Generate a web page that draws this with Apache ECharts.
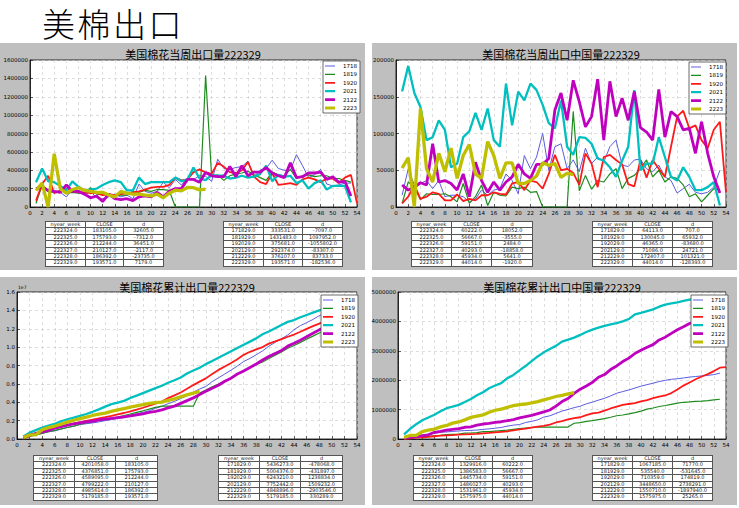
<!DOCTYPE html>
<html><head><meta charset="utf-8">
<script src="https://cdn.jsdelivr.net/npm/echarts@6/dist/echarts.min.js"></script>
<style>
html,body{margin:0;padding:0;background:#fff;width:739px;height:508px;overflow:hidden;}
.panel{position:absolute;background:#bfbfbf;}
#chart{position:absolute;left:0;top:0;width:739px;height:508px;z-index:1;}
#mainTitle{position:absolute;left:42px;top:3px;height:40px;font-family:'Noto Sans CJK SC',sans-serif;font-weight:300;font-size:33px;line-height:40px;letter-spacing:2.5px;color:#000;white-space:nowrap;z-index:5;}
#tables{position:absolute;left:0;top:0;z-index:4;}
table.t{position:absolute;border-collapse:collapse;background:#fff;font-family:'DejaVu Sans',sans-serif;font-size:5px;color:#222;table-layout:fixed;}
table.t td{border:1px solid #555;text-align:center;padding:0;height:5.4px;line-height:5.4px;overflow:hidden;white-space:nowrap;}
</style></head>
<body>
<div class="panel" style="left:0;top:43px;width:365px;height:227px"></div>
<div class="panel" style="left:372px;top:43px;width:365px;height:227px"></div>
<div class="panel" style="left:0;top:277px;width:365px;height:228px"></div>
<div class="panel" style="left:372px;top:277px;width:365px;height:228px"></div>
<div id="chart"></div>
<div id="tables"></div>
<div id="mainTitle"></div>
<script>
// ---------- series names ----------
const seriesNames = ['1718','1819','1920','2021','2122','2223'];

// ---------- 美国棉花当周出口量 (weekly US exports) ----------
const wk1718 = [60000,230000,160000,170000,160000,110000,190000,180000,130000,170000,100000,90000,110000,140000,110000,130000,90000,250000,170000,150000,170000,270000,210000,300000,240000,310000,300000,340628,333531,280000,520000,420000,410000,430000,440000,500000,330000,400000,420000,510000,420000,400000,400000,570000,450000,320000,350000,410000,250000,230000,240000,260000,260000];
const wk1819 = [40000,240000,170000,160000,180000,150000,160000,150000,150000,210000,140000,140000,120000,120000,130000,130000,170000,160000,180000,170000,190000,190000,180000,0,0,0,0,0,1431483,330000,350000,290000,340000,360000,370000,390000,350000,320000,290000,380000,350000,340000,410000,310000,340000,350000,330000,340000,340000,310000,310000,290000,270000];
const wk1920 = [70000,250000,340000,150000,180000,200000,170000,160000,160000,150000,150000,130000,140000,130000,140000,150000,160000,170000,190000,210000,220000,220000,240000,320000,290000,300000,380000,410000,375681,360000,480000,440000,380000,370000,400000,490000,330000,270000,250000,370000,240000,250000,260000,240000,300000,320000,300000,270000,310000,310000,260000,320000,350000,40000];
const wk2021 = [270000,420000,280000,270000,230000,180000,280000,220000,180000,190000,200000,240000,270000,290000,270000,180000,180000,320000,250000,270000,270000,270000,270000,320000,280000,300000,430000,310000,292374,350000,340000,340000,310000,320000,340000,320000,330000,360000,450000,280000,350000,330000,340000,260000,290000,200000,260000,290000,190000,230000,230000,230000,50000];
const wk2122 = [200000,220000,180000,170000,160000,240000,170000,170000,140000,100000,120000,60000,140000,90000,80000,90000,70000,110000,120000,110000,160000,110000,170000,200000,200000,300000,300000,270000,376107,340000,330000,330000,440000,330000,450000,340000,380000,380000,430000,370000,340000,320000,480000,320000,330000,370000,370000,380000,300000,330000,270000,280000,120000];
const wk2223 = [180000,260000,0,580000,200000,150000,190000,210000,180000,170000,160000,160000,130000,110000,170000,150000,140000,140000,130000,120000,140000,100000,150500,183105,175793,212244,210127,186392,193571];

// ---------- 美国棉花当周出口中国量 (weekly exports to China) ----------
const cn1718 = [16000,52000,30000,32000,36000,25000,36000,14000,16000,16000,14000,7000,11000,23000,16000,23000,25000,45000,36000,18000,70000,52000,68000,100000,50000,82000,86000,52000,64113,48000,80000,59000,68000,61000,82000,91000,57000,55000,64000,65000,52000,48000,57000,41000,36000,19000,25000,31000,20000,18000,20000,27000,50000];
const cn1819 = [5000,34000,27000,10000,18000,17000,17000,18000,14000,7000,32000,5000,14000,30000,2000,20000,16000,15000,27000,25000,27000,20000,21000,0,0,0,0,0,130045,22000,43000,24000,36000,34000,45000,52000,25000,39000,43000,52000,64000,41000,50000,34000,41000,39000,30000,14000,18000,7000,16000,25000,23000];
const cn1920 = [5000,14000,30000,11000,14000,20000,18000,9000,9000,17000,8000,11000,9000,16000,16000,20000,18000,17000,32000,34000,23000,36000,34000,25000,45000,71000,50000,52000,46365,30000,73000,59000,27000,68000,71000,64000,58000,31000,28000,64000,40000,64000,52000,41000,82000,123000,131000,107000,111000,91000,80000,105000,116000,20000];
const cn2021 = [157000,192000,155000,136000,91000,95000,118000,105000,54000,59000,95000,103000,128000,105000,134000,91000,82000,168000,111000,157000,145000,168000,159000,139000,114000,107000,145000,82000,71086,95000,94000,86000,66000,63000,54000,41000,63000,82000,159000,50000,59000,59000,95000,68000,41000,36000,54000,41000,23000,23000,27000,34000,2000];
const cn2122 = [30000,23000,27000,33000,30000,86000,34000,36000,32000,23000,45000,14000,61000,36000,20000,34000,23000,34000,41000,58000,45000,39000,58000,58000,66000,132000,155000,118000,172407,143000,109000,123000,174000,91000,171000,123000,148000,118000,157000,108000,102000,91000,160000,95000,130000,123000,105000,107000,73000,116000,73000,41000,19000];
const cn2223 = [53000,67000,0,134000,52000,34000,73000,48000,80000,39000,70000,85000,45000,39000,89000,70000,39000,60000,60000,32000,32000,36000,42170,60222,56667,59151,40293,45934,44014];

// ---------- 美国棉花累计出口量 (cumulative US exports) ----------
const cum1718 = [60000,290000,450000,620000,780000,890000,1080000,1260000,1390000,1560000,1660000,1750000,1860000,2000000,2110000,2240000,2330000,2580000,2750000,2900000,3070000,3340000,3550000,3850000,4090000,4400000,4700000,5102742,5436273,5720000,6240000,6660000,7070000,7500000,7940000,8440000,8770000,9170000,9590000,10100000,10520000,10920000,11320000,11890000,12340000,12660000,13010000,13420000,13670000,13900000,14140000,14400000,14660000];
const cum1819 = [40000,280000,450000,610000,790000,940000,1100000,1250000,1400000,1610000,1750000,1890000,2010000,2130000,2260000,2390000,2560000,2720000,2900000,3070000,3260000,3450000,3572893,3572893,3572893,3572893,3572893,3572893,5004376,5330000,5680000,5970000,6310000,6670000,7040000,7430000,7780000,8100000,8390000,8770000,9120000,9460000,9870000,10180000,10520000,10870000,11200000,11540000,11880000,12190000,12500000,12790000,13060000];
const cum1920 = [70000,320000,660000,810000,990000,1190000,1360000,1520000,1680000,1830000,1980000,2110000,2250000,2380000,2520000,2670000,2830000,3000000,3190000,3400000,3620000,3840000,4080000,4450000,4750000,5060000,5460000,5867529,6243210,6600000,7080000,7520000,7900000,8270000,8670000,9160000,9490000,9760000,10010000,10380000,10620000,10870000,11130000,11370000,11670000,11990000,12290000,12560000,12870000,13180000,13440000,13760000,14110000,14150000];
const cum2021 = [270000,690000,970000,1240000,1470000,1650000,1930000,2150000,2330000,2520000,2720000,2960000,3230000,3520000,3790000,3970000,4150000,4470000,4720000,4990000,5260000,5530000,5800000,6120000,6400000,6700000,7130000,7460068,7752442,8150000,8500000,8850000,9200000,9550000,9900000,10250000,10600000,10950000,11400000,11700000,12050000,12400000,12750000,12950000,13250000,13500000,13750000,14000000,14200000,14450000,14650000,14900000,14950000];
const cum2122 = [200000,420000,600000,770000,930000,1170000,1340000,1510000,1650000,1750000,1870000,1930000,2070000,2160000,2240000,2330000,2400000,2510000,2630000,2740000,2900000,3010000,3180000,3380000,3580000,3880000,4180000,4472789,4848896,5190000,5520000,5850000,6290000,6620000,7070000,7410000,7790000,8170000,8600000,8970000,9310000,9630000,10110000,10430000,10760000,11130000,11500000,11880000,12180000,12510000,12780000,13060000,13180000];
const cum2223 = [180000,440000,440000,1020000,1240000,1410000,1620000,1840000,2040000,2220000,2390000,2560000,2700000,2820000,3000000,3160000,3310000,3460000,3600000,3730000,3870000,3970000,4017953,4201058,4376851,4589095,4799222,4985614,5179185];

// ---------- 美国棉花累计出口中国量 (cumulative exports to China) ----------
const ccum1718 = [16000,68000,98000,130000,166000,191000,227000,241000,257000,273000,287000,294000,305000,328000,344000,367000,392000,437000,473000,491000,561000,600000,650000,745000,790000,870000,950000,1003072,1067185,1115000,1195000,1254000,1322000,1383000,1465000,1556000,1613000,1668000,1732000,1797000,1849000,1897000,1954000,1995000,2031000,2050000,2075000,2106000,2126000,2144000,2164000,2191000,2241000];
const ccum1819 = [5000,39000,66000,76000,94000,111000,128000,146000,160000,167000,199000,204000,218000,248000,250000,270000,286000,301000,328000,353000,375000,392000,405495,405495,405495,405495,405495,405495,535540,557000,600000,624000,660000,694000,739000,791000,816000,855000,898000,950000,1014000,1055000,1105000,1139000,1180000,1219000,1249000,1263000,1281000,1288000,1304000,1329000,1352000];
const ccum1920 = [5000,19000,49000,60000,74000,94000,112000,121000,130000,147000,155000,166000,175000,191000,207000,227000,245000,262000,294000,328000,351000,387000,421000,446000,491000,562000,612000,663994,710359,740000,813000,872000,899000,967000,1038000,1102000,1160000,1191000,1219000,1283000,1323000,1387000,1439000,1480000,1562000,1685000,1816000,1923000,2034000,2125000,2205000,2310000,2426000,2446000];
const ccum2021 = [157000,349000,504000,640000,731000,826000,944000,1049000,1103000,1162000,1257000,1360000,1488000,1593000,1727000,1818000,1900000,2068000,2179000,2336000,2481000,2649000,2808000,2947000,3061000,3168000,3313000,3377564,3448650,3540000,3640000,3720000,3790000,3850000,3900000,3940000,4000000,4080000,4240000,4290000,4350000,4410000,4500000,4570000,4610000,4650000,4700000,4740000,4760000,4780000,4810000,4850000,4850000];
const ccum2122 = [30000,53000,80000,113000,143000,229000,263000,299000,331000,354000,399000,413000,474000,510000,530000,564000,587000,621000,662000,720000,765000,804000,862000,920000,986000,1118000,1273000,1378303,1550710,1694000,1803000,1926000,2100000,2191000,2362000,2485000,2633000,2751000,2908000,3016000,3118000,3209000,3369000,3464000,3594000,3717000,3822000,3929000,4002000,4118000,4191000,4232000,4251000];
const ccum2223 = [53000,120000,120000,254000,306000,340000,413000,461000,541000,580000,650000,735000,780000,819000,908000,978000,1017000,1077000,1137000,1169000,1190000,1226000,1269694,1329916,1386583,1445734,1486027,1531961,1575975];

// ---------- titles ----------
const pageTitle = '美棉出口';
const panelTitles = ['美国棉花当周出口量222329','美国棉花当周出口中国量222329','美国棉花累计出口量222329','美国棉花累计出口中国量222329'];

// ---------- table texts ----------
const tblHeader = ['nyear_week','CLOSE','d'];
const recentWeeks = ['222324.0','222325.0','222326.0','222327.0','222328.0','222329.0'];
const sameWeekYears = ['171829.0','181929.0','192029.0','202129.0','212229.0','222329.0'];
const t1L_close = ['183105.0','175793.0','212244.0','210127.0','186392.0','193571.0'];
const t1L_d     = ['32605.0','-7312.0','36451.0','-2117.0','-23735.0','7179.0'];
const t1R_close = ['333531.0','1431483.0','375681.0','292374.0','376107.0','193571.0'];
const t1R_d     = ['-7097.0','1097952.0','-1055802.0','-83307.0','83733.0','-182536.0'];
const t2L_close = ['60222.0','56667.0','59151.0','40293.0','45934.0','44014.0'];
const t2L_d     = ['18052.0','-3555.0','2484.0','-18858.0','5641.0','-1920.0'];
const t2R_close = ['64113.0','130045.0','46365.0','71086.0','172407.0','44014.0'];
const t2R_d     = ['707.0','65932.0','-83680.0','24721.0','101321.0','-128393.0'];
const t3L_close = ['4201058.0','4376851.0','4589095.0','4799222.0','4985614.0','5179185.0'];
const t3L_d     = ['183105.0','175793.0','212244.0','210127.0','186392.0','193571.0'];
const t3R_close = ['5436273.0','5004376.0','6243210.0','7752442.0','4848896.0','5179185.0'];
const t3R_d     = ['-478068.0','-431897.0','1238834.0','1509232.0','-2903546.0','330289.0'];
const t4L_close = ['1329916.0','1386583.0','1445734.0','1486027.0','1531961.0','1575975.0'];
const t4L_d     = ['60222.0','56667.0','59151.0','40293.0','45934.0','44014.0'];
const t4R_close = ['1067185.0','535540.0','710359.0','3448650.0','1550710.0','1575975.0'];
const t4R_d     = ['71770.0','-531645.0','174819.0','2738291.0','-1897940.0','25265.0'];

// ---------- styling ----------
const colors = ['#5c5ce0','#1e8c1e','#ff1a1a','#00bfbf','#bf00bf','#bfbf00'];
const widths = [1, 1.2, 1.8, 2.3, 2.8, 3.3];

const grids = [
  {left:30, top:60, width:327, height:147},
  {left:396, top:60, width:330, height:147},
  {left:17, top:292, width:340, height:147},
  {left:398, top:292, width:328, height:147}
];
const yCfg = [
  {max:1600000, interval:200000, fmt: v => String(v)},
  {max:200000, interval:50000, fmt: v => String(v)},
  {max:16000000, interval:2000000, fmt: v => (v/1e7).toFixed(1)},
  {max:5000000, interval:1000000, fmt: v => String(v)}
];
const panelData = [
  [wk1718, wk1819, wk1920, wk2021, wk2122, wk2223],
  [cn1718, cn1819, cn1920, cn2021, cn2122, cn2223],
  [cum1718, cum1819, cum1920, cum2021, cum2122, cum2223],
  [ccum1718, ccum1819, ccum1920, ccum2021, ccum2122, ccum2223]
];
const legendPos = [
  {left:323, top:61}, {left:689, top:62}, {left:321, top:295}, {left:691, top:295}
];
const titlePos = [[193,54],[561,54],[187,287],[562,287]];

const lbl = {fontSize:5.5, color:'#000', fontFamily:'DejaVu Sans'};
const xAxis = grids.map((g,i) => ({
  type:'value', gridIndex:i, min:0, max:54, interval:2,
  axisLine:{show:true, onZero:false, lineStyle:{color:'#000', width:0.8}},
  axisTick:{show:true, inside:true, length:3, lineStyle:{color:'#000', width:0.6}},
  axisLabel:Object.assign({margin:3}, lbl),
  splitLine:{show:true, lineStyle:{color:'#c8c8c8', type:[3,3], width:0.6}}
}));
const yAxis = grids.map((g,i) => ({
  type:'value', gridIndex:i, min:0, max:yCfg[i].max, interval:yCfg[i].interval,
  axisLine:{show:true, lineStyle:{color:'#000', width:0.8}},
  axisTick:{show:true, inside:true, length:3, lineStyle:{color:'#000', width:0.6}},
  axisLabel:Object.assign({margin:2, formatter:yCfg[i].fmt}, lbl),
  splitLine:{show:true, lineStyle:{color:'#c8c8c8', type:[3,3], width:0.6}}
}));

const series = [];
panelData.forEach((arrs, p) => {
  arrs.forEach((arr, s) => {
    series.push({
      type:'line', name:seriesNames[s], xAxisIndex:p, yAxisIndex:p,
      data: arr.map((v, i) => [i + 1, v]),
      symbol:'none', showSymbol:false, smooth:false, animation:false, clip:true,
      lineStyle:{color:colors[s], width:widths[s]}, itemStyle:{color:colors[s]},
      emphasis:{disabled:true}
    });
  });
});

// legend icon: a horizontal bar whose thickness follows the line width (box 10x5)
function barIcon(w) {
  const y = (2.5 - w / 2).toFixed(2);
  return 'path://M0,0h10v0.01h-10zM0,' + y + 'h10v' + w + 'h-10zM0,4.99h10v0.01h-10z';
}
const legend = legendPos.map(pos => ({
  left:pos.left, top:pos.top, orient:'vertical',
  data: seriesNames.map((n, i) => ({name:n, icon:barIcon(Math.min(widths[i], 3)), itemStyle:{color:colors[i], borderWidth:0}})),
  itemWidth:10, itemHeight:5, itemGap:2.4, padding:[2,3,2,2],
  backgroundColor:'#fff', borderColor:'#444', borderWidth:0.8, borderRadius:0,
  textStyle:{fontSize:5.5, color:'#000', fontFamily:'DejaVu Sans', padding:[0,0,0,3]},
  selectedMode:false
}));

const graphic = [
  {type:'text', left:18, top:285, style:{text:'1e7', fontSize:4.5, fill:'#000', fontFamily:'DejaVu Sans'}}
];
panelTitles.forEach((t, i) => {
  graphic.push({type:'text', x:titlePos[i][0], y:titlePos[i][1],
    style:{text:t, fontSize:11, fill:'#000', fontFamily:'Noto Sans CJK SC', align:'center', verticalAlign:'middle'}});
});

document.getElementById('mainTitle').textContent = pageTitle;

const chart = echarts.init(document.getElementById('chart'), null, {renderer:'svg', width:739, height:508});
chart.setOption({
  backgroundColor:'transparent', animation:false,
  grid: grids.map(g => Object.assign({show:true, backgroundColor:'#fff', borderColor:'#000', borderWidth:0.8}, g)),
  xAxis, yAxis, series, legend, graphic
});

// ---------- tables ----------
const tables = [
  {x:45,  y:221, cols:[40,38,40], a:recentWeeks,   b:t1L_close, c:t1L_d},
  {x:223, y:221, cols:[40,39,40], a:sameWeekYears, b:t1R_close, c:t1R_d},
  {x:411, y:221, cols:[40,40,41], a:recentWeeks,   b:t2L_close, c:t2L_d},
  {x:592, y:221, cols:[40,40,40], a:sameWeekYears, b:t2R_close, c:t2R_d},
  {x:33,  y:455, cols:[41,41,42], a:recentWeeks,   b:t3L_close, c:t3L_d},
  {x:218, y:455, cols:[41,41,42], a:sameWeekYears, b:t3R_close, c:t3R_d},
  {x:413, y:455, cols:[40,39,40], a:recentWeeks,   b:t4L_close, c:t4L_d},
  {x:592, y:455, cols:[40,40,40], a:sameWeekYears, b:t4R_close, c:t4R_d}
];
const host = document.getElementById('tables');
tables.forEach(t => {
  const tb = document.createElement('table');
  tb.className = 't';
  tb.style.left = t.x + 'px'; tb.style.top = t.y + 'px';
  tb.style.width = (t.cols[0]+t.cols[1]+t.cols[2]) + 'px';
  let html = '<colgroup>' + t.cols.map(w => '<col style="width:'+w+'px">').join('') + '</colgroup>';
  html += '<tr>' + tblHeader.map(h => '<td>'+h+'</td>').join('') + '</tr>';
  for (let i = 0; i < t.a.length; i++) {
    html += '<tr><td>'+t.a[i]+'</td><td>'+t.b[i]+'</td><td>'+t.c[i]+'</td></tr>';
  }
  tb.innerHTML = html;
  host.appendChild(tb);
});
</script>
</body></html>
